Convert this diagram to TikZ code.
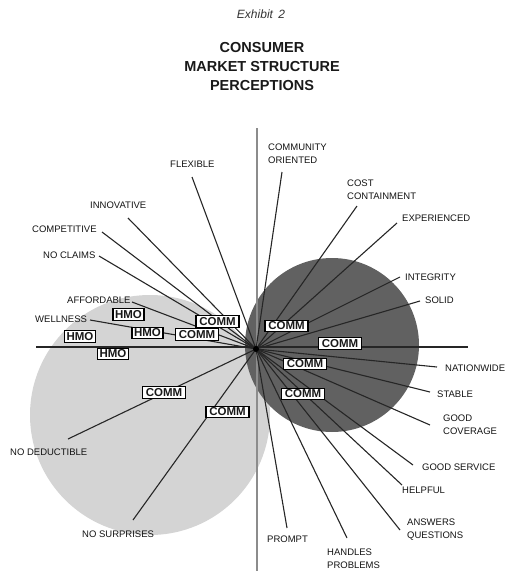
\documentclass[tikz,border=0pt]{standalone}
\usepackage{fontspec}
\setmainfont{Liberation Sans}
\begin{document}
\begin{tikzpicture}[x=1pt,y=-1pt,
  lbl/.style={font=\fontsize{9.5}{13}\selectfont, inner sep=0pt, anchor=west, align=left, text=black!92},
  ray/.style={line width=1.1pt, draw=black!85},
  bx/.style={draw=black, line width=1.2pt, fill=white, inner sep=0pt, minimum height=11.5pt,
             font=\bfseries\fontsize{11.5}{12}\selectfont, text=black!90},
  comm/.style={bx, minimum width=43pt},
  hmo/.style={bx, minimum width=31pt}]
\useasboundingbox (0,0) rectangle (515,571);

% title
\node[font=\itshape\fontsize{12}{14}\selectfont, text=black!80] (exh) at (261,14) {Exhibit\, 2};
\node[font=\bfseries\fontsize{14.5}{19}\selectfont, align=center, text=black!90] (title) at (262,67)
  {CONSUMER\\MARKET STRUCTURE\\PERCEPTIONS};

% background regions
\fill[black!17] (150,415) circle (120pt);
\fill[black!62] (332,345) circle (87pt);

% axes
\draw[black!45, line width=2.5pt] (257,128) -- (257,571);
\draw[black!85, line width=2.8pt] (36,347) -- (468,347);

% centre
\coordinate (c) at (256,349);

% ray end points
\coordinate (eFlex) at (192,177);
\coordinate (eInno) at (128,218);
\coordinate (eComp) at (102,232);
\coordinate (eNoCl) at (99,256);
\coordinate (eAffo) at (132,302);
\coordinate (eWell) at (90,320);
\coordinate (eNoDe) at (68,439);
\coordinate (eNoSu) at (133,520);
\coordinate (eCmty) at (282,172);
\coordinate (eCost) at (357,206);
\coordinate (eExpe) at (397,223);
\coordinate (eInte) at (400,277);
\coordinate (eSoli) at (420,301);
\coordinate (eNati) at (437,367);
\coordinate (eStab) at (430,392);
\coordinate (eGcov) at (430,425);
\coordinate (eGser) at (413,465);
\coordinate (eHelp) at (402,485);
\coordinate (eAnsw) at (400,530);
\coordinate (eHand) at (347,538);
\coordinate (eProm) at (287,528);

\foreach \e in {eFlex,eInno,eComp,eNoCl,eAffo,eWell,eNoDe,eNoSu,eCmty,eCost,eExpe,eInte,eSoli,eNati,eStab,eGcov,eGser,eHelp,eAnsw,eHand,eProm}
  \draw[ray] (c) -- (\e);

\fill[black] (c) circle (3pt);

% boxes
\node[hmo] (h1) at (128.5,314.5) {HMO};
\node[hmo] (h2) at (147.5,333) {HMO};
\node[hmo] (h3) at (80,336.5) {HMO};
\node[hmo] (h4) at (113,354) {HMO};
\node[comm] (cl1) at (217.5,321.5) {COMM};
\node[comm] (cl2) at (197,334.5) {COMM};
\node[comm] (cl3) at (164,392.5) {COMM};
\node[comm] (cl4) at (227.5,412) {COMM};
\node[comm] (cr1) at (286.5,326) {COMM};
\node[comm] (cr2) at (340,343.5) {COMM};
\node[comm] (cr3) at (305,364) {COMM};
\node[comm] (cr4) at (303,394) {COMM};

% labels
\node[lbl] (lFlex) at (170,164) {FLEXIBLE};
\node[lbl] (lInno) at (90,205) {INNOVATIVE};
\node[lbl] (lComp) at (32,229) {COMPETITIVE};
\node[lbl] (lNoCl) at (43,255) {NO CLAIMS};
\node[lbl] (lAffo) at (67,300) {AFFORDABLE};
\node[lbl] (lWell) at (35,319) {WELLNESS};
\node[lbl] (lNoDe) at (10,452) {NO DEDUCTIBLE};
\node[lbl] (lNoSu) at (82,534) {NO SURPRISES};
\node[lbl] (lCmty) at (268,153.5) {COMMUNITY\\ORIENTED};
\node[lbl] (lCost) at (347,189.5) {COST\\CONTAINMENT};
\node[lbl] (lExpe) at (402,218) {EXPERIENCED};
\node[lbl] (lInte) at (405,277) {INTEGRITY};
\node[lbl] (lSoli) at (425,300) {SOLID};
\node[lbl] (lNati) at (445,368) {NATIONWIDE};
\node[lbl] (lStab) at (437,394) {STABLE};
\node[lbl] (lGcov) at (443,424.5) {GOOD\\COVERAGE};
\node[lbl] (lGser) at (422,467) {GOOD SERVICE};
\node[lbl] (lHelp) at (402,490) {HELPFUL};
\node[lbl] (lAnsw) at (407,530) {ANSWERS\\QUESTIONS};
\node[lbl] (lProm) at (267,539) {PROMPT};
\node[lbl] (lHand) at (327,558.5) {HANDLES\\PROBLEMS};
\end{tikzpicture}
\end{document}
